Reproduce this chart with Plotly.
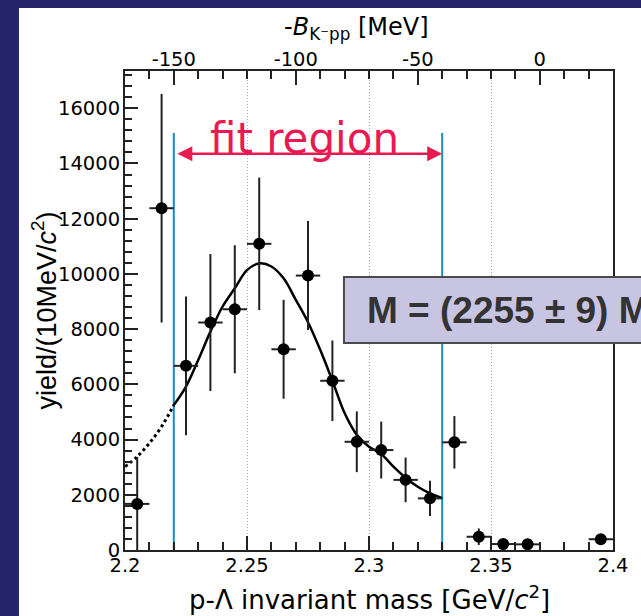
import plotly.graph_objects as go

# ---------------- data ----------------
mass_centers = [2.205, 2.215, 2.225, 2.235, 2.245, 2.255, 2.265, 2.275, 2.285,
                2.295, 2.305, 2.315, 2.325, 2.335, 2.345, 2.355, 2.365, 2.395]
yield_vals = [1670, 12380, 6670, 8240, 8720, 11090, 7270, 9940, 6130,
              3920, 3620, 2540, 1870, 3900, 480, 215, 205, 390]
yield_errs = [1700, 4140, 2510, 2480, 2320, 2400, 1790, 1975, 1460,
              1100, 1030, 810, 640, 950, 300, 150, 150, 150]
bin_halfwidth = 0.005

# fit curve (sampled from the drawn curve)
fit_ext_mass = [2.200, 2.205, 2.210, 2.215, 2.220]
fit_ext_yield = [3020, 3380, 3870, 4470, 5250]
fit_mass = [2.220, 2.225, 2.230, 2.235, 2.240, 2.245, 2.250, 2.255, 2.260, 2.265,
            2.270, 2.275, 2.280, 2.285, 2.290, 2.295, 2.300, 2.305, 2.310, 2.315,
            2.320, 2.325, 2.330]
fit_yield = [5250, 5920, 6880, 7910, 8820, 9480, 10140, 10380, 10270, 9840,
             9060, 8250, 7250, 6130, 4960, 4170, 3740, 3480, 3020, 2620,
             2290, 2050, 1880]

fit_range = [2.22, 2.33]
fit_line_top = 15100
arrow_level = 14350
mass_result = "M = (2255 ± 9) MeV"

threshold_mev = 2370.0  # m(K-) + 2 m(p)
mass_range = [2.2, 2.4]
yield_range = [0, 17350]

mass_ticks = [2.2, 2.25, 2.3, 2.35, 2.4]
mass_ticklabels = ["2.2", "2.25", "2.3", "2.35", "2.4"]
yield_ticks = [0, 2000, 4000, 6000, 8000, 10000, 12000, 14000, 16000]
yield_ticklabels = [str(v) for v in yield_ticks]
binding_ticks = [-150, -100, -50, 0]
binding_ticklabels = ["-150", "-100", "-50", "0"]

# ---------------- styling ----------------
NAVY = "#24246a"
PINK = "#e91a52"
BLUE = "#1a8cc0"
AX = "#222222"
TICKFONT = dict(family="DejaVu Sans", size=19.5, color="black")

fig = go.Figure()

# fit region boundaries
for xv in fit_range:
    fig.add_trace(go.Scatter(x=[xv, xv], y=[0, fit_line_top], mode="lines",
                             line=dict(color=BLUE, width=2), showlegend=False,
                             hoverinfo="skip"))

# fit curve
fig.add_trace(go.Scatter(x=fit_ext_mass, y=fit_ext_yield, mode="lines",
                         line=dict(color="black", width=3, dash="dot", shape="spline"),
                         showlegend=False))
fig.add_trace(go.Scatter(x=fit_mass, y=fit_yield, mode="lines",
                         line=dict(color="black", width=2.5, shape="spline"),
                         showlegend=False))

# data points
fig.add_trace(go.Scatter(
    x=mass_centers, y=yield_vals, mode="markers",
    marker=dict(color="black", size=12),
    error_y=dict(type="data", array=yield_errs, visible=True, color=AX,
                 thickness=2, width=0),
    error_x=dict(type="constant", value=bin_halfwidth, visible=True, color=AX,
                 thickness=2, width=0),
    showlegend=False))

# top axis helper (binding energy scale)
fig.add_trace(go.Scatter(x=[], y=[], xaxis="x2", showlegend=False))

L, R, T, B = 125, 19, 71, 66
W, H = 641, 616
pw, ph = W - L - R, H - T - B


def px_x(px):
    return (px - L) / pw


def px_y(py):
    return (H - B - py) / ph


fig.update_layout(
    width=W, height=H, autosize=False,
    margin=dict(l=L, r=R, t=T, b=B, pad=0),
    paper_bgcolor=NAVY, plot_bgcolor="white",
    font=dict(family="DejaVu Sans", color="black"),
    xaxis=dict(range=mass_range, tickmode="array", tickvals=mass_ticks,
               ticktext=mass_ticklabels, ticks="inside", ticklen=14, tickwidth=2,
               tickcolor=AX, showline=True, linecolor=AX, linewidth=2, mirror=True,
               showgrid=True, gridcolor="#a8a8a8", griddash="1px,2px", gridwidth=1,
               zeroline=False, tickfont=TICKFONT, ticklabelstandoff=-3,
               minor=dict(tickmode="linear", tick0=2.2, dtick=0.01, ticks="inside",
                          ticklen=8, tickwidth=1.5, tickcolor=AX, showgrid=False)),
    xaxis2=dict(range=[(m * 1000 - threshold_mev) for m in mass_range],
                overlaying="x", side="top", anchor="y",
                tickmode="array", tickvals=binding_ticks, ticktext=binding_ticklabels,
                ticks="inside", ticklen=14, tickwidth=2, tickcolor=AX,
                showline=True, linecolor=AX, linewidth=2, showgrid=False,
                zeroline=False, tickfont=TICKFONT, ticklabelstandoff=-5,
                minor=dict(tickmode="linear", tick0=0, dtick=10, ticks="inside",
                           ticklen=8, tickwidth=1.5, tickcolor=AX, showgrid=False)),
    yaxis=dict(range=yield_range, tickmode="array", tickvals=yield_ticks,
               ticktext=yield_ticklabels, ticks="inside", ticklen=13, tickwidth=2,
               tickcolor=AX, showline=True, linecolor=AX, linewidth=2, mirror=True,
               showgrid=False, zeroline=False, tickfont=TICKFONT,
               ticklabelstandoff=-1,
               minor=dict(tickmode="linear", tick0=0, dtick=400, ticks="inside",
                          ticklen=7, tickwidth=1.5, tickcolor=AX, showgrid=False)),
)

shapes = [
    # white slide panel
    dict(type="rect", xref="paper", yref="paper", x0=px_x(17), x1=px_x(700),
         y0=px_y(700), y1=px_y(8), fillcolor="white", line=dict(width=0),
         layer="below"),
    # result box
    dict(type="rect", xref="paper", yref="paper", x0=px_x(348), x1=px_x(660),
         y0=px_y(343), y1=px_y(277), fillcolor="#c8c5e2",
         line=dict(color="#4a4a4a", width=2), layer="above"),
]
fig.update_layout(shapes=shapes)

annotations = [
    dict(text="fit region", x=2.2736, y=14910, xref="x", yref="y", showarrow=False,
         font=dict(family="DejaVu Sans", size=42, color=PINK),
         xanchor="center", yanchor="middle"),
    dict(text=" ", x=fit_range[1], y=arrow_level, ax=fit_range[0], ay=arrow_level,
         xref="x", yref="y", axref="x", ayref="y", showarrow=True,
         arrowside="end+start", arrowhead=2, startarrowhead=2, arrowsize=1.2,
         startarrowsize=1.2, arrowwidth=2.5, arrowcolor=PINK, standoff=0,
         startstandoff=0),
    dict(text="<b>" + mass_result + "</b>", x=px_x(369), y=px_y(310), xref="paper",
         yref="paper", showarrow=False, xanchor="left", yanchor="middle",
         font=dict(family="Liberation Sans", size=37, color="#333333")),
    dict(text="p-Λ invariant mass [GeV/<i>c</i><sup>2</sup>]", x=px_x(374),
         y=px_y(598), xref="paper", yref="paper", showarrow=False,
         xanchor="center", yanchor="middle",
         font=dict(family="DejaVu Sans", size=26, color="black")),
    dict(text="yield/(10MeV/<i>c</i><sup>2</sup>)", x=px_x(43), y=px_y(310),
         xref="paper", yref="paper", showarrow=False, textangle=-90,
         xanchor="center", yanchor="middle",
         font=dict(family="Liberation Sans", size=27, color="black")),
    dict(text="-<i>B</i><sub>K⁻pp</sub> [MeV]", x=px_x(361), y=px_y(28),
         xref="paper", yref="paper", showarrow=False, xanchor="center",
         yanchor="middle", font=dict(family="DejaVu Sans", size=24, color="black")),
]
fig.update_layout(annotations=annotations)

fig.write_html("out.html", config={"displayModeBar": False},
               post_script="document.body.style.margin='0px';document.body.style.overflow='hidden';")
